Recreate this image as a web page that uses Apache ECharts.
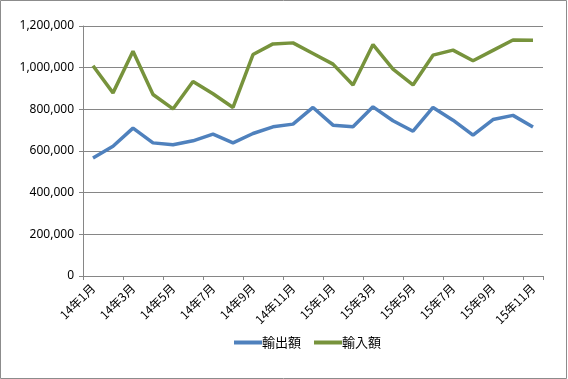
<!DOCTYPE html>
<html><head><meta charset="utf-8">
<script src="https://cdn.jsdelivr.net/npm/echarts@6/dist/echarts.min.js"></script>
<style>html,body{margin:0;padding:0;background:#fff}#c{width:568px;height:379px}</style>
</head><body><div id="c"></div>
<script>
const categories = ["14年1月","14年2月","14年3月","14年4月","14年5月","14年6月","14年7月","14年8月","14年9月","14年10月","14年11月","14年12月",
"15年1月","15年2月","15年3月","15年4月","15年5月","15年6月","15年7月","15年8月","15年9月","15年10月","15年11月"];
const exportValues = [566000,623000,710000,639000,630000,649000,681000,639000,684000,716000,729000,809000,
724000,716000,812000,745000,695000,809000,748000,676000,751000,771000,715000];
const importValues = [1009000,879000,1079000,871000,802000,934000,875000,809000,1063000,1114000,1119000,1068000,
1017000,917000,1111000,993000,917000,1060000,1084000,1033000,1083000,1133000,1132000];
const seriesNames = ["輸出額","輸入額"];

const chart = echarts.init(document.getElementById('c'), null, {renderer:'canvas'});
const font = "'Noto Sans CJK JP', 'Noto Sans', sans-serif";
const numFont = "'Noto Sans', 'DejaVu Sans', sans-serif";
chart.setOption({
  animation:false,
  backgroundColor:'#fff',
  graphic:[{type:'rect',shape:{x:0.5,y:0.5,width:566,height:378},style:{fill:'none',stroke:'#8c8c8c',lineWidth:1},silent:true}],
  grid:{left:83,right:25,top:26,bottom:103,containLabel:false},
  legend:{
    top:336,left:234,padding:0,itemWidth:28,itemHeight:4,itemGap:13,
    icon:'rect',
    textStyle:{fontFamily:font,fontSize:13,color:'#000',padding:[0,0,0,-5]},
    data:seriesNames
  },
  xAxis:{
    type:'category',data:categories,boundaryGap:true,
    axisLine:{lineStyle:{color:'#868686',width:1}},
    axisTick:{show:true,interval:1,length:4,lineStyle:{color:'#868686'}},
    axisLabel:{interval:1,rotate:45,fontFamily:font,fontSize:12,color:'#000',margin:10}
  },
  yAxis:{
    type:'value',min:0,max:1200000,interval:200000,
    axisLine:{show:true,lineStyle:{color:'#868686',width:1}},
    axisTick:{show:true,length:4,lineStyle:{color:'#868686'}},
    splitLine:{lineStyle:{color:'#868686',width:1}},
    axisLabel:{fontFamily:numFont,fontSize:12,color:'#000',margin:9,
      formatter:v=>v.toLocaleString('en-US')}
  },
  series:[
    {name:seriesNames[0],type:'line',data:exportValues,symbol:'none',
      lineStyle:{color:'#4F81BD',width:3.5},itemStyle:{color:'#4F81BD'}},
    {name:seriesNames[1],type:'line',data:importValues,symbol:'none',
      lineStyle:{color:'#77933C',width:3.5},itemStyle:{color:'#77933C'}}
  ]
});
</script></body></html>
